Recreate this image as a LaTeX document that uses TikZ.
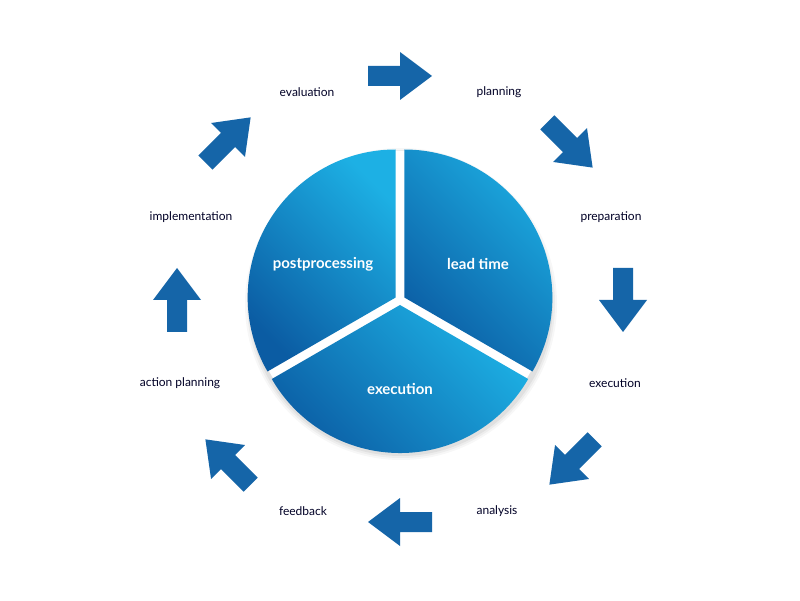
\documentclass[tikz,border=0pt]{standalone}
\usepackage{fontspec}
\setmainfont{Lato}
\begin{document}
\begin{tikzpicture}[x=1pt,y=1pt,
  lbl/.style={font=\fontsize{12}{14}\selectfont, text=black!75!blue!60!black},
  slbl/.style={font=\bfseries\fontsize{15}{18}\selectfont, text=white},
  sect/.style={left color=dark,right color=light,shading angle=135},
  flow/.pic={\fill[arrowblue] (-32,-10) -- (0,-10) -- (0,-24) -- (32,0) -- (0,24) -- (0,10) -- (-32,10) -- cycle;}]
\definecolor{arrowblue}{HTML}{1565A8}
\definecolor{light}{HTML}{1DB0E4}
\definecolor{dark}{HTML}{0B5CA3}
\useasboundingbox (0,0) rectangle (800,600);
\fill[white] (0,0) rectangle (800,600);
% shadow
\foreach \r/\o in {156/0.03,154/0.04,152/0.05}
  \fill[black,opacity=\o] (401,296) circle (\r);
\fill[white] (400,300) circle (149);
% sectors
\begin{scope}[shift={(30:5)}]
\shade[sect] (400,300) -- ++(-30:148) arc[start angle=-30,end angle=90,radius=148] -- cycle;
\end{scope}
\begin{scope}[shift={(150:5)}]
\shade[sect] (400,300) -- ++(90:148) arc[start angle=90,end angle=210,radius=148] -- cycle;
\end{scope}
\begin{scope}[shift={(270:5)}]
\shade[sect] (400,300) -- ++(210:148) arc[start angle=210,end angle=330,radius=148] -- cycle;
\end{scope}
\node[slbl] (s1) at (478,336) {lead time};
\node[slbl] (s2) at (323,336) {postprocessing};
\node[slbl] (s3) at (400,211) {execution};
% arrows
\pic[rotate=0] at (400,524) {flow};
\pic[rotate=-45] at (570,455) {flow};
\pic[rotate=-90] at (623,300) {flow};
\pic[rotate=-135] at (572,138) {flow};
\pic[rotate=180] at (400,78) {flow};
\pic[rotate=135] at (228,138) {flow};
\pic[rotate=90] at (177,300) {flow};
\pic[rotate=45] at (228,460) {flow};
% labels
\node[lbl] (l1) at (499,508) {planning};
\node[lbl] (l2) at (611,383) {preparation};
\node[lbl] (l3) at (615,217) {execution};
\node[lbl] (l4) at (497,89) {analysis};
\node[lbl] (l5) at (303,89) {feedback};
\node[lbl] (l6) at (180,217) {action planning};
\node[lbl] (l7) at (191,383) {implementation};
\node[lbl] (l8) at (307,508) {evaluation};
\end{tikzpicture}
\end{document}
